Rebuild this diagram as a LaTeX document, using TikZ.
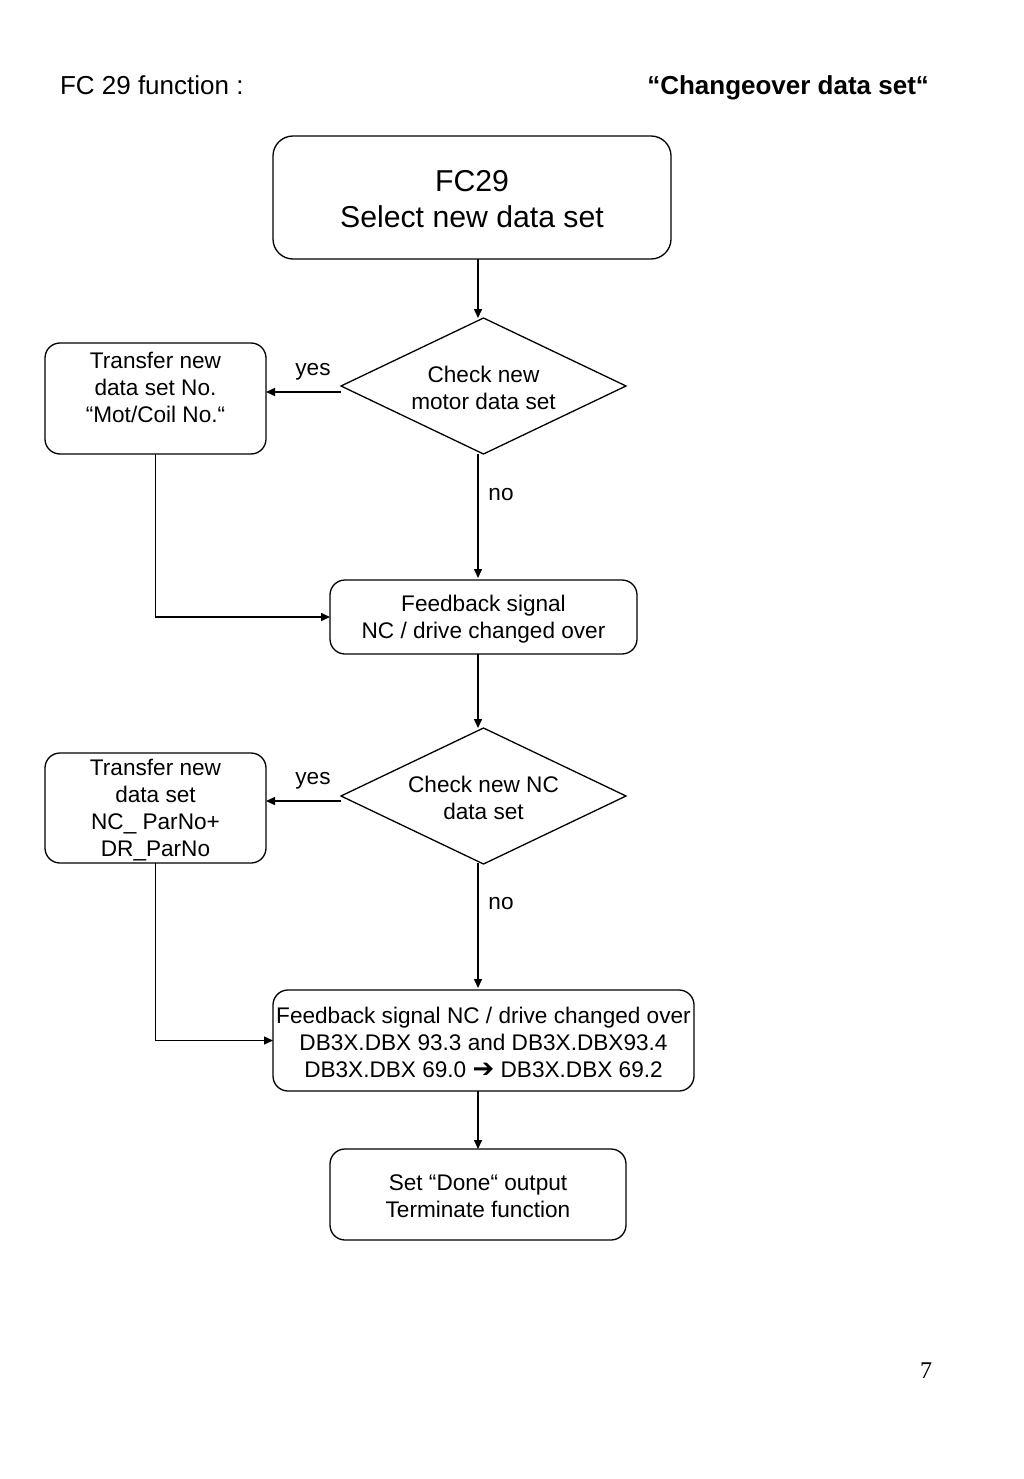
\documentclass[tikz,border=0pt]{standalone}
\usepackage{fontspec}
\setmainfont{Liberation Sans}
\newfontfamily\pagefont{Liberation Serif}
\newfontfamily\arrowfont{DejaVu Sans}
\usetikzlibrary{shapes.geometric,arrows.meta}
\begin{document}
\begin{tikzpicture}[x=1pt,y=-1pt,
  every node/.style={inner sep=0pt, outer sep=0pt},
  body/.style={font=\fontsize{22.6pt}{27pt}\selectfont, align=center},
  boxr/.style={draw, line width=1.3pt, rounded corners=15pt},
  dia/.style={draw, line width=1.3pt, diamond, aspect=2.1, minimum width=285pt, minimum height=136pt, body},
  arr/.style={line width=1.5pt, -{Triangle[length=9pt,width=8pt]}},
  ln/.style={line width=1.5pt}]
\useasboundingbox (0,0) rectangle (1024,1479);
% titles
\node[anchor=base west, font=\fontsize{26pt}{31pt}\selectfont] (ttl) at (60,94.5) {FC 29 function :};
\node[anchor=base east, font=\fontsize{26pt}{31pt}\selectfont\bfseries] (ttr) at (929,94.5) {“Changeover data set“};
% nodes
\node[boxr, rounded corners=20pt, minimum width=398pt, minimum height=123pt] (fc) at (472,197.5) {};
\node[align=center, font=\fontsize{30.2pt}{36pt}\selectfont] (fctxt) at (472,199) {FC29\\Select new data set};
\node[dia] (d1) at (483.5,386) {};
\node[body] (d1txt) at (483.5,388) {Check new\\motor data set};
\node[boxr, minimum width=221pt, minimum height=111pt] (t1) at (155.5,398.5) {};
\node[body] (t1txt) at (155.5,387) {Transfer new\\data set No.\\“Mot/Coil No.“};
\node[boxr, minimum width=307pt, minimum height=74pt] (f1) at (483.5,617) {};
\node[body] (f1txt) at (483.5,619.5) {Feedback signal\\NC / drive changed over};
\node[dia] (d2) at (483.5,796) {};
\node[body] (d2txt) at (483.5,798) {Check new NC\\data set};
\node[boxr, minimum width=221pt, minimum height=110pt] (t2) at (155.5,808) {};
\node[body] (t2txt) at (155.5,810) {Transfer new\\data set\\NC\_ ParNo+\\DR\_ParNo};
\node[boxr, minimum width=421pt, minimum height=101pt] (f2) at (483.5,1040.5) {};
\node[body] (f2txt) at (483.5,1042) {Feedback signal NC / drive changed over\\DB3X.DBX 93.3 and DB3X.DBX93.4\\DB3X.DBX 69.0 {\arrowfont\fontsize{26pt}{27pt}\selectfont ➔} DB3X.DBX 69.2};
\node[boxr, minimum width=296pt, minimum height=91pt] (s) at (478,1194.5) {};
\node[body] (stxt) at (478,1196.5) {Set “Done“ output\\Terminate function};
% labels
\node[body] (y1) at (313,372) {yes};
\node[body] (n1) at (501,495) {no};
\node[body] (y2) at (313,781) {yes};
\node[body] (n2) at (501,904) {no};
\node[font=\pagefont\fontsize{24pt}{28pt}\selectfont] (pg) at (926,1371) {7};
% connectors
\draw[arr] (fc.south -| 478,0) -- (478,318);
\draw[arr] ([yshift=-6pt]d1.west) -- ([yshift=-6pt]d1.west -| t1.east);
\draw[arr] (478,454) -- (478,578);
\draw[arr] (t1.south) |- (f1.west);
\draw[arr] (f1.south -| 478,0) -- (478,728);
\draw[arr] ([yshift=-5pt]d2.west) -- ([yshift=-5pt]d2.west -| t2.east);
\draw[arr] (478,863) -- (478,988);
\draw[arr] (t2.south) |- (f2.west);
\draw[arr] (f2.south -| 478,0) -- (s.north);
\end{tikzpicture}
\end{document}
